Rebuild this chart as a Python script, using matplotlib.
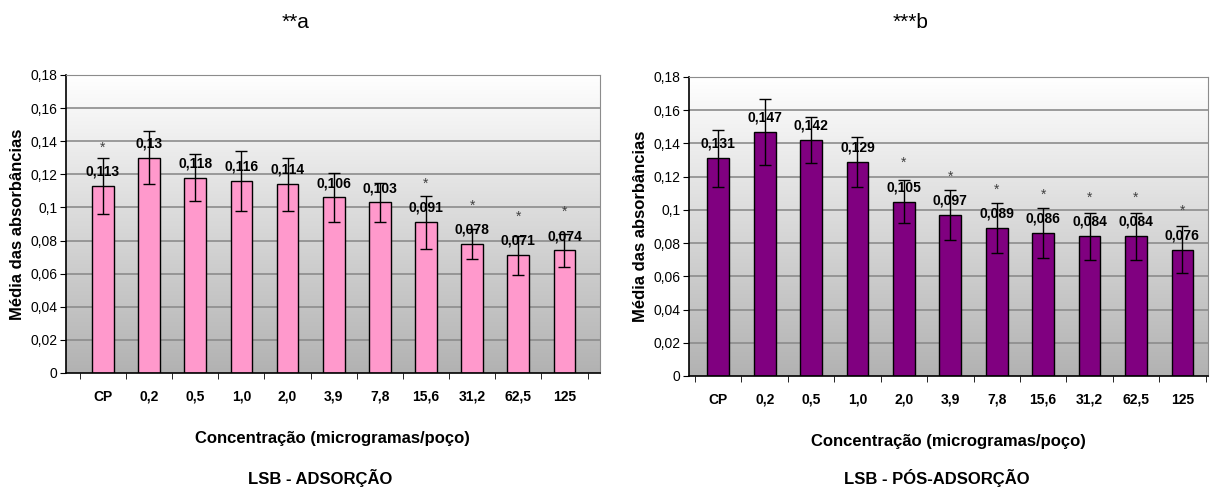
import numpy as np
import matplotlib.pyplot as plt
from matplotlib import font_manager

# ===== Dados =====
categorias = ["CP", "0,2", "0,5", "1,0", "2,0", "3,9", "7,8", "15,6", "31,2", "62,5", "125"]

adsorcao = [0.113, 0.130, 0.118, 0.116, 0.114, 0.106, 0.103, 0.091, 0.078, 0.071, 0.074]
adsorcao_err = [0.017, 0.016, 0.014, 0.018, 0.016, 0.015, 0.012, 0.016, 0.009, 0.012, 0.010]
adsorcao_rot = ["0,113", "0,13", "0,118", "0,116", "0,114", "0,106", "0,103", "0,091", "0,078", "0,071", "0,074"]
adsorcao_sig = [True, False, False, False, False, False, False, True, True, True, True]

pos_ads = [0.131, 0.147, 0.142, 0.129, 0.105, 0.097, 0.089, 0.086, 0.084, 0.084, 0.076]
pos_ads_err = [0.017, 0.020, 0.014, 0.015, 0.013, 0.015, 0.015, 0.015, 0.014, 0.014, 0.014]
pos_ads_rot = ["0,131", "0,147", "0,142", "0,129", "0,105", "0,097", "0,089", "0,086", "0,084", "0,084", "0,076"]
pos_ads_sig = [False, False, False, False, True, True, True, True, True, True, True]

yticks = [0, 0.02, 0.04, 0.06, 0.08, 0.1, 0.12, 0.14, 0.16, 0.18]
ytick_rot = ["0", "0,02", "0,04", "0,06", "0,08", "0,1", "0,12", "0,14", "0,16", "0,18"]

# ===== Fonte =====
nomes = {f.name for f in font_manager.fontManager.ttflist}
estreita = "Liberation Sans Narrow" if "Liberation Sans Narrow" in nomes else "Liberation Sans"
plt.rcParams['font.family'] = [estreita, 'DejaVu Sans']

fig = plt.figure(figsize=(12.1, 4.92), dpi=100)


def grafico(rect, valores, erros, rotulos, sig, cor, titulo, subtitulo, xlim):
    ax = fig.add_axes(rect)
    x = np.arange(len(categorias))

    # fundo em degradê (branco -> cinza)
    grad = np.linspace(0, 1, 256).reshape(-1, 1)
    ax.imshow(grad, extent=(xlim[0], xlim[1], 0, 0.18), aspect='auto',
              cmap=plt.matplotlib.colors.LinearSegmentedColormap.from_list(
                  'g', ['#b2b2b2', '#ffffff']),
              origin='lower', zorder=0)

    for t in yticks[1:]:
        ax.axhline(t, color='#8c8c8c', lw=1.2, zorder=1)

    ax.bar(x, valores, width=0.47, color=cor, edgecolor='black',
           linewidth=1, zorder=2)
    ax.errorbar(x, valores, yerr=erros, fmt='none', ecolor='black',
                elinewidth=1, capsize=4, capthick=1, zorder=3)

    for i, v in enumerate(valores):
        ax.text(x[i], v + 0.0045, rotulos[i], ha='center', va='bottom',
                fontsize=10, fontweight='bold', zorder=4)
        if sig[i]:
            ax.text(x[i], v + 0.019, "*", ha='center', va='bottom',
                    fontsize=10, color='#404040', zorder=4)

    ax.set_xlim(*xlim)
    ax.set_ylim(0, 0.18)
    ax.set_yticks(yticks)
    ax.set_yticklabels(ytick_rot, fontsize=10)
    ax.set_xticks(x)
    ax.set_xticklabels(categorias, fontsize=10, fontweight='bold')
    ax.set_xticks(np.arange(-0.5, len(categorias)), minor=True)
    ax.tick_params(axis='x', which='major', length=0, pad=12)
    ax.tick_params(axis='x', which='minor', length=4, direction='out')
    ax.tick_params(axis='y', length=4, direction='out', pad=2)

    for s in ['top', 'right']:
        ax.spines[s].set_color('#8c8c8c')
    ax.spines['left'].set_linewidth(1.2)
    ax.spines['bottom'].set_linewidth(1.2)

    ax.set_ylabel("Média das absorbâncias", fontsize=12, fontweight='bold',
                  family=['Liberation Sans', 'DejaVu Sans'], labelpad=4)
    ax.set_xlabel("Concentração (microgramas/poço)", fontsize=12,
                  fontweight='bold', labelpad=20)

    cx = rect[0] + rect[2] / 2
    fig.text(cx - 0.031, 0.955, titulo, ha='center', va='center', fontsize=15)
    fig.text(cx - 0.01, 0.028, subtitulo, ha='center', va='center',
             fontsize=12, fontweight='bold')
    return ax


grafico([0.0545, 0.2419, 0.441, 0.6057], adsorcao, adsorcao_err,
        adsorcao_rot, adsorcao_sig, '#ff99cc', "**a", "LSB - ADSORÇÃO",
        (-0.8, 10.76))
grafico([0.5694, 0.2358, 0.4289, 0.6077], pos_ads, pos_ads_err,
        pos_ads_rot, pos_ads_sig, '#800080', "***b", "LSB - PÓS-ADSORÇÃO",
        (-0.63, 10.55))

fig.savefig("out.png", dpi=100)
